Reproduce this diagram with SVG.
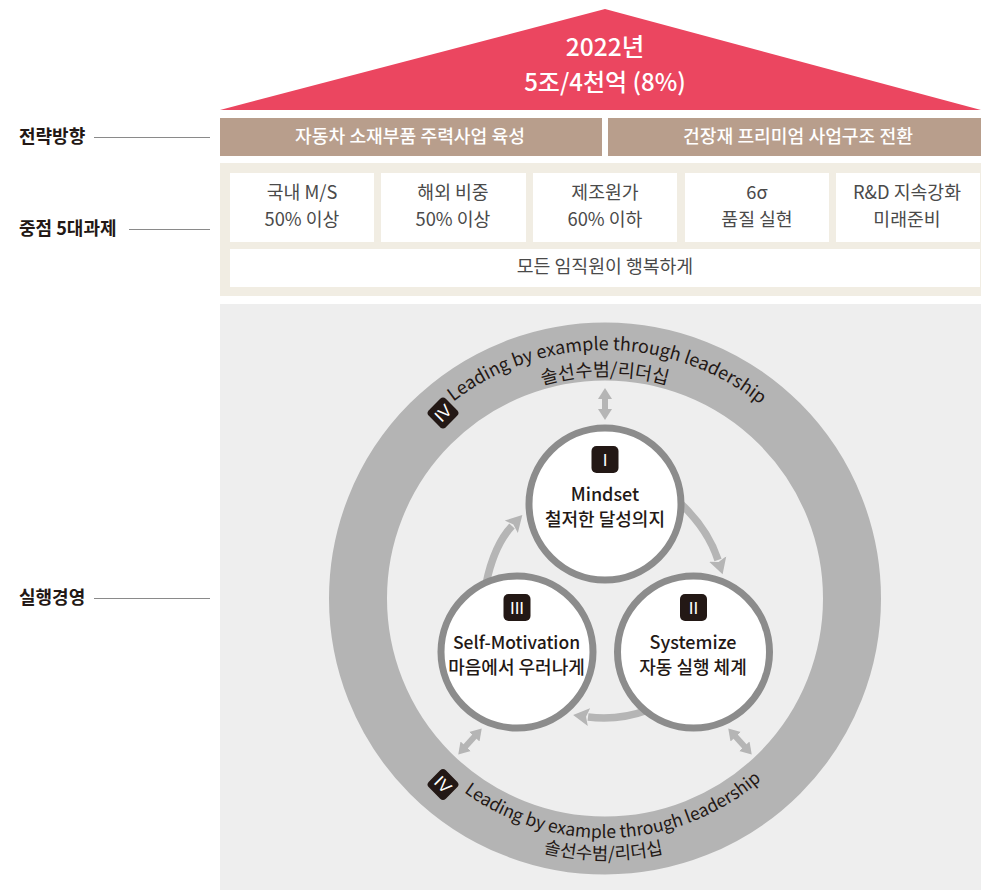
<svg xmlns="http://www.w3.org/2000/svg" xmlns:xlink="http://www.w3.org/1999/xlink" width="981" height="890" viewBox="0 0 981 890">
<style>
text{font-family:"Noto Sans CJK KR","Noto Sans",sans-serif;text-anchor:middle}
.box{fill:#fff}
.t{font-size:18.3px;fill:#4a4a4a}
.bar{fill:#b89e8c}
.bt{font-size:18.2px;fill:#fff;font-weight:500}
.lab{font-size:18px;fill:#231815;font-weight:700;text-anchor:start}
.lead{stroke:#8a8a8a;stroke-width:1;fill:none}
.c{fill:#fff;stroke:#8c8c8c;stroke-width:7}
.ct{font-size:18px;fill:#231815;font-weight:500}
.badge{fill:#231815}
.bg{font-size:17px;fill:#fff;font-weight:400;font-family:"Liberation Sans",sans-serif}
.rt{font-size:18px;fill:#231815}
.rb{font-size:17.5px;fill:#231815}
.rk{font-size:18.5px;fill:#231815}
.ar{fill:none;stroke:#b5b5b5;stroke-width:7.500}
.dar{fill:none;stroke:#b5b5b5;stroke-width:6}
</style>
<defs>
<marker id="h" markerUnits="userSpaceOnUse" markerWidth="20" markerHeight="22" refX="1" refY="11" orient="auto"><path d="M0,2 L16,11 L0,20 L3,11z" fill="#b5b5b5"/></marker>
<marker id="d" markerUnits="userSpaceOnUse" markerWidth="14" markerHeight="16" refX="1" refY="8" orient="auto-start-reverse"><path d="M0,1 L11,8 L0,15z" fill="#b5b5b5"/></marker>
<path id="a1" d="M357,598 A248,248 0 0 1 853,598"/>
<path id="a2" d="M383,598 A222,222 0 0 1 827,598"/>
<path id="a3" d="M365,598 A240,240 0 0 0 845,598"/>
<path id="a4" d="M343,598 A262,262 0 0 0 867,598"/>
</defs>
<rect width="981" height="890" fill="#fff"/>
<g id="roof"><polygon points="605,9 981,110 220,110" fill="#eb4660"/>
<text x="605" y="56" font-size="24.500" fill="#fff" font-weight="500">2022년</text>
<text x="605" y="91" font-size="24" fill="#fff" font-weight="500">5조/4천억 (8%)</text></g>
<g id="label-strategy"><text class="lab" x="19" y="143">전략방향</text></g>
<g id="label-tasks"><text class="lab" x="19" y="235">중점 5대과제</text></g>
<g id="label-exec"><text class="lab" x="19" y="604">실행경영</text></g>
<g id="leaders"><path class="lead" d="M94,137.500H210M129,229.500H210M94,598.500H210"/></g>
<g id="strategy-1"><rect class="bar" x="220" y="118" width="382" height="38"/><text class="bt" x="410" y="143">자동차 소재부품 주력사업 육성</text></g>
<g id="strategy-2"><rect class="bar" x="608" y="118" width="373" height="38"/><text class="bt" x="798" y="143">건장재 프리미엄 사업구조 전환</text></g>
<rect id="tasks-bg" x="220" y="163" width="761" height="133" fill="#f1ede3"/>
<g id="task-1"><rect class="box" x="230" y="173" width="144" height="69"/><text class="t" x="302" y="199">국내 M/S</text><text class="t" x="302" y="226">50% 이상</text></g>
<g id="task-2"><rect class="box" x="381" y="173" width="145" height="69"/><text class="t" x="453" y="199">해외 비중</text><text class="t" x="453" y="226">50% 이상</text></g>
<g id="task-3"><rect class="box" x="533" y="173" width="144" height="69"/><text class="t" x="605" y="199">제조원가</text><text class="t" x="605" y="226">60% 이하</text></g>
<g id="task-4"><rect class="box" x="685" y="173" width="144" height="69"/><text class="t" x="757" y="199">6σ</text><text class="t" x="757" y="226">품질 실현</text></g>
<g id="task-5"><rect class="box" x="836" y="173" width="144" height="69"/><text class="t" x="907" y="199">R&amp;D 지속강화</text><text class="t" x="907" y="226">미래준비</text></g>
<g id="task-6"><rect class="box" x="230" y="249" width="750" height="38"/><text class="t" x="605" y="273">모든 임직원이 행복하게</text></g>
<rect id="exec-bg" x="220" y="304" width="761" height="586" fill="#eee"/>
<g id="ring">
<circle cx="605" cy="598.500" r="247" fill="none" stroke="#b4b4b4" stroke-width="58"/>
<text class="rt"><textPath xlink:href="#a1" href="#a1" startOffset="50.300%">Leading by example through leadership</textPath></text>
<text class="rk"><textPath xlink:href="#a2" href="#a2" startOffset="50%">솔선수범/리더십</textPath></text>
<text class="rb"><textPath xlink:href="#a3" href="#a3" startOffset="51.300%">Leading by example through leadership</textPath></text>
<text class="rk" style="font-size:17.800px"><textPath xlink:href="#a4" href="#a4" startOffset="49.800%">솔선수범/리더십</textPath></text>
<g transform="translate(443,413) rotate(45)"><rect class="badge" x="-12" y="-12" width="24" height="24" rx="4"/><text class="bg" y="6" transform="rotate(-90)">IV</text></g>
<g transform="translate(443,784.500) rotate(45)"><rect class="badge" x="-12" y="-12" width="24" height="24" rx="4"/><text class="bg" y="6">IV</text></g>
</g>
<g id="connectors">
<path class="ar" d="M680,503 Q708,529 718,560" marker-end="url(#h)"/>
<path class="ar" d="M648,710 Q618,721 588,717" marker-end="url(#h)"/>
<path class="ar" d="M486,584 Q494,545 512,526" marker-end="url(#h)"/>
<path class="dar" d="M605,398 V410" marker-start="url(#d)" marker-end="url(#d)"/>
<path class="dar" d="M475,736 L465,747" marker-start="url(#d)" marker-end="url(#d)"/>
<path class="dar" d="M735,736 L745,747" marker-start="url(#d)" marker-end="url(#d)"/>
</g>
<g id="node-1"><circle class="c" cx="605" cy="504" r="76"/><rect class="badge" x="591.500" y="446" width="27" height="27" rx="5"/><text class="bg" x="605" y="465.500">I</text><text class="ct" x="605" y="501">Mindset</text><text class="ct" x="605" y="526">철저한 달성의지</text></g>
<g id="node-2"><circle class="c" cx="693.500" cy="652" r="76"/><rect class="badge" x="680" y="594" width="27" height="27" rx="5"/><text class="bg" x="693.500" y="613.500">II</text><text class="ct" x="693" y="649">Systemize</text><text class="ct" x="693" y="674">자동 실행 체계</text></g>
<g id="node-3"><circle class="c" cx="517" cy="652" r="76"/><rect class="badge" x="503.500" y="594" width="27" height="27" rx="5"/><text class="bg" x="517" y="613.500">III</text><text class="ct" style="font-size:17.500px" x="516.500" y="649">Self-Motivation</text><text class="ct" x="516.500" y="674">마음에서 우러나게</text></g>
</svg>
